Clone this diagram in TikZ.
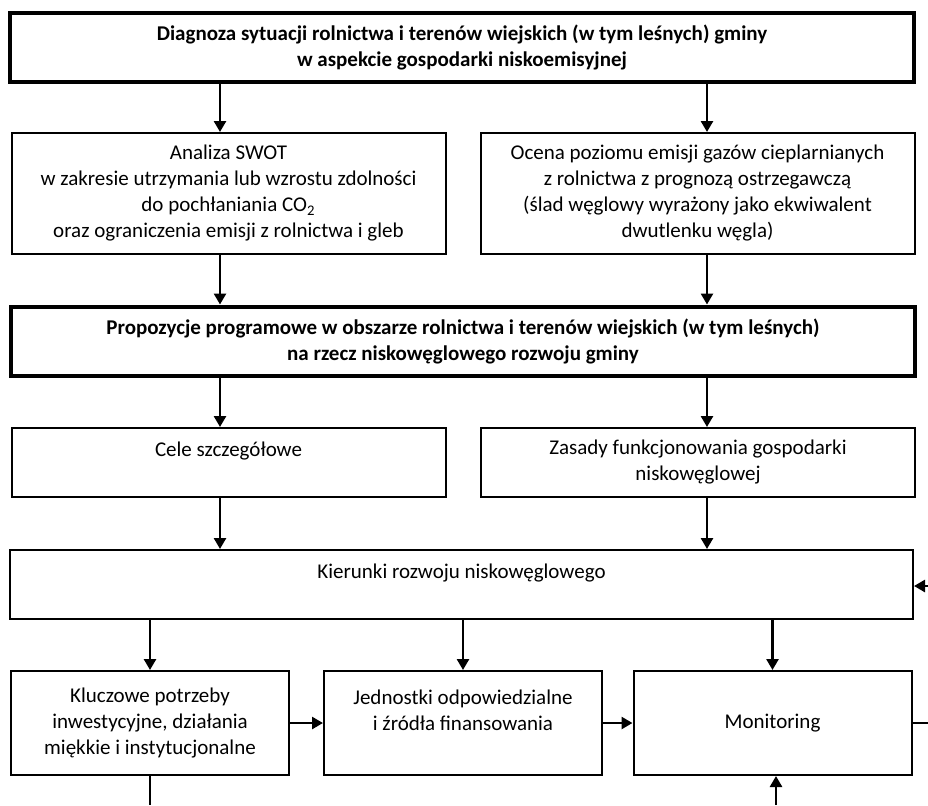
\documentclass[tikz,border=0pt]{standalone}
\usepackage{fontspec}
\setmainfont{Carlito}
\usetikzlibrary{arrows.meta}
\tikzset{
    box/.style={draw, line width=1pt, align=center, inner sep=0pt, minimum height=34.5pt, font=\fontsize{10.5}{13}\selectfont},
    headbox/.style={box, line width=2pt, minimum width=452pt, font=\fontsize{10.5}{13}\selectfont\bfseries},
    halfbox/.style={box, minimum width=217pt},
    lowbox/.style={box, minimum width=139pt, minimum height=52pt},
    arr/.style={-{Triangle[width=6pt,length=5.5pt]}, line width=1.3pt},
}
\begin{document}
\begin{tikzpicture}[x=0.5pt,y=-0.5pt]
    % Frame
        \useasboundingbox (0,0) rectangle (928,805);
    % Boxes
        % Diagnosis
        \node[headbox] (diagnoza) at (462,47.5) {Diagnoza sytuacji rolnictwa i terenów wiejskich (w tym leśnych) gminy\\w aspekcie gospodarki niskoemisyjnej};
        \node[halfbox, minimum height=60.5pt] (swot) at (228.5,193.5) {Analiza SWOT\\w zakresie utrzymania lub wzrostu zdolności\\do pochłaniania CO\textsubscript{2}\\oraz ograniczenia emisji z rolnictwa i gleb};
        \node[halfbox, minimum height=60.5pt] (ocena) at (697.5,193.5) {Ocena poziomu emisji gazów cieplarnianych\\z rolnictwa z prognozą ostrzegawczą\\(ślad węglowy wyrażony jako ekwiwalent\\dwutlenku węgla)};
        % Proposals
        \node[headbox] (propozycje) at (463,341) {Propozycje programowe w obszarze rolnictwa i terenów wiejskich (w tym leśnych)\\na rzecz niskowęglowego rozwoju gminy};
        \node[halfbox] (cele) at (228.5,462.5) {Cele szczegółowe\\\mbox{}};
        \node[halfbox] (zasady) at (698,462.5) {Zasady funkcjonowania gospodarki\\niskowęglowej};
        \node[box, minimum width=451.5pt] (kierunki) at (461.5,584.5) {Kierunki rozwoju niskowęglowego\\\mbox{}};
        % Bottom row
        \node[lowbox] (kluczowe) at (150,723) {Kluczowe potrzeby\\inwestycyjne, działania\\miękkie i instytucjonalne};
        \node[lowbox] (jednostki) at (463,723) {Jednostki odpowiedzialne\\i źródła finansowania\\\mbox{}};
        \node[lowbox] (monitoring) at (772.5,723) {Monitoring};
    % Arrows
        \coordinate (L) at (220,0);
        \coordinate (R) at (707,0);
        \foreach \a/\b in {diagnoza/swot,swot/propozycje,propozycje/cele,cele/kierunki}{
            \draw[arr] (L |- \a.south) -- (L |- \b.north);
        }
        \foreach \a/\b in {diagnoza/ocena,ocena/propozycje,propozycje/zasady,zasady/kierunki}{
            \draw[arr] (R |- \a.south) -- (R |- \b.north);
        }
        \foreach \b in {kluczowe,jednostki,monitoring}{
            \draw[arr] (kierunki.south -| \b.north) -- (\b.north);
        }
        \draw[arr] (kluczowe) -- (jednostki);
        \draw[arr] (jednostki) -- (monitoring);
    % Loop ends
        \coordinate (feedin) at (928,586);
        \coordinate (feedout) at (928,723);
        \coordinate (kdown) at (150,805);
        \coordinate (mup) at (776,805);
        \draw[arr] (feedin) -- (feedin -| kierunki.east);
        \draw[line width=1.3pt] (monitoring.east) -- (feedout);
        \draw[line width=1.3pt] (kluczowe.south) -- (kdown);
        \draw[arr] (mup) -- (mup |- monitoring.south);
\end{tikzpicture}
\end{document}
